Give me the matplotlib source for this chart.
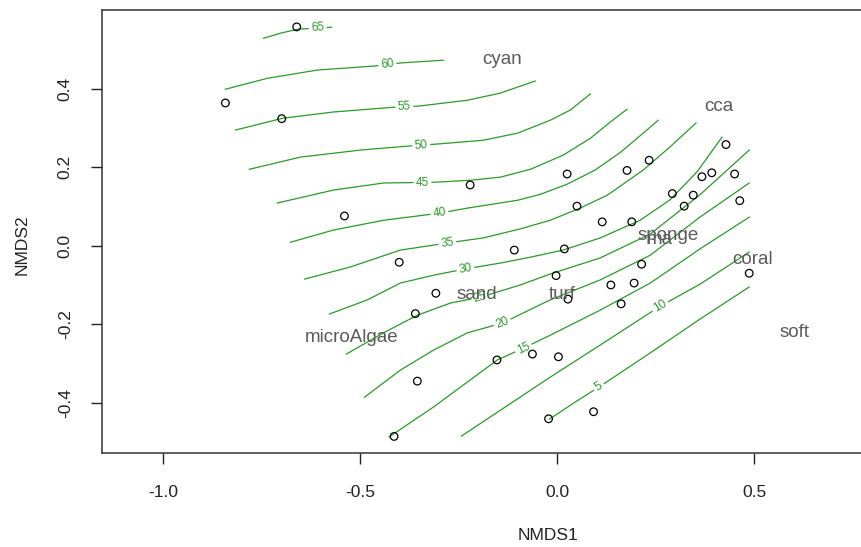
import numpy as np
import matplotlib.pyplot as plt

plt.rcParams['font.family'] = ['Liberation Sans', 'DejaVu Sans']

# site scores (NMDS1, NMDS2)
site_x = [-0.661, -0.842, -0.699, -0.221, -0.540, -0.109, -0.401, -0.308, -0.360, -0.063,
          -0.153, -0.355, -0.414, -0.022, 0.428, 0.233, 0.177, 0.367, 0.392, 0.450,
          0.025, 0.292, 0.345, 0.322, 0.463, 0.050, 0.114, 0.189, 0.018, -0.003,
          0.214, 0.136, 0.195, 0.162, 0.027, 0.487, 0.003, 0.092]
site_y = [0.558, 0.364, 0.324, 0.155, 0.076, -0.011, -0.042, -0.121, -0.173, -0.276,
          -0.291, -0.345, -0.486, -0.441, 0.258, 0.218, 0.192, 0.176, 0.186, 0.183,
          0.183, 0.133, 0.129, 0.101, 0.115, 0.101, 0.061, 0.061, -0.008, -0.076,
          -0.047, -0.100, -0.095, -0.148, -0.136, -0.070, -0.283, -0.423]

# species scores
species = ['cyan', 'cca', 'sponge', 'ma', 'coral', 'soft', 'sand', 'turf', 'microAlgae']
sp_x = [-0.140, 0.411, 0.282, 0.261, 0.495, 0.602, -0.203, 0.013, -0.523]
sp_y = [0.475, 0.356, 0.027, 0.015, -0.036, -0.220, -0.125, -0.125, -0.235]

# fitted surface isolines
iso65_x = [-0.745, -0.702, -0.659, -0.608, -0.573]
iso65_y = [0.529, 0.542, 0.552, 0.555, 0.557]
iso60_x = [-0.842, -0.735, -0.608, -0.466, -0.398, -0.289]
iso60_y = [0.399, 0.427, 0.448, 0.458, 0.466, 0.473]
iso55_x = [-0.816, -0.697, -0.568, -0.416, -0.352, -0.228, -0.145, -0.056]
iso55_y = [0.295, 0.325, 0.341, 0.353, 0.356, 0.371, 0.389, 0.420]
iso50_x = [-0.781, -0.652, -0.499, -0.380, -0.309, -0.188, -0.101, -0.068, -0.018, 0.033, 0.084]
iso50_y = [0.195, 0.226, 0.244, 0.254, 0.259, 0.269, 0.287, 0.300, 0.320, 0.346, 0.387]
iso45_x = [-0.710, -0.568, -0.441, -0.309, -0.221, -0.144, -0.068, 0.015, 0.084, 0.134, 0.177]
iso45_y = [0.109, 0.142, 0.160, 0.162, 0.167, 0.175, 0.195, 0.231, 0.274, 0.315, 0.348]
iso40_x = [-0.677, -0.568, -0.441, -0.299, -0.228, -0.101, -0.043, 0.025, 0.096, 0.160, 0.218, 0.256]
iso40_y = [0.009, 0.040, 0.065, 0.083, 0.096, 0.116, 0.131, 0.157, 0.193, 0.238, 0.287, 0.320]
iso35_x = [-0.641, -0.525, -0.398, -0.279, -0.188, -0.094, -0.018, 0.058, 0.127, 0.218, 0.286, 0.352]
iso35_y = [-0.085, -0.054, -0.011, 0.007, 0.020, 0.043, 0.065, 0.096, 0.129, 0.193, 0.252, 0.313]
iso30_x = [-0.578, -0.482, -0.398, -0.314, -0.233, -0.144, -0.068, 0.015, 0.109, 0.210, 0.286, 0.355, 0.418]
iso30_y = [-0.174, -0.138, -0.095, -0.075, -0.059, -0.044, -0.029, -0.011, 0.020, 0.065, 0.117, 0.189, 0.277]
iso25_x = [-0.535, -0.441, -0.355, -0.271, -0.195, -0.094, -0.018, 0.109, 0.236, 0.362, 0.487]
iso25_y = [-0.276, -0.222, -0.177, -0.146, -0.131, -0.100, -0.072, -0.031, 0.030, 0.130, 0.244]
iso20_x = [-0.489, -0.398, -0.314, -0.228, -0.139, -0.018, 0.109, 0.236, 0.362, 0.487]
iso20_y = [-0.386, -0.317, -0.266, -0.222, -0.197, -0.138, -0.087, -0.024, 0.073, 0.160]
iso15_x = [-0.426, -0.314, -0.152, -0.086, -0.018, 0.109, 0.236, 0.362, 0.487]
iso15_y = [-0.487, -0.411, -0.291, -0.261, -0.228, -0.164, -0.095, -0.008, 0.073]
iso10_x = [-0.243, -0.144, -0.018, 0.109, 0.261, 0.362, 0.487]
iso10_y = [-0.485, -0.419, -0.335, -0.253, -0.154, -0.098, -0.016]
iso05_x = [-0.020, 0.046, 0.106, 0.236, 0.362, 0.487]
iso05_y = [-0.442, -0.398, -0.360, -0.273, -0.187, -0.105]

isolines = [(65, iso65_x, iso65_y), (60, iso60_x, iso60_y), (55, iso55_x, iso55_y),
            (50, iso50_x, iso50_y), (45, iso45_x, iso45_y), (40, iso40_x, iso40_y),
            (35, iso35_x, iso35_y), (30, iso30_x, iso30_y), (25, iso25_x, iso25_y),
            (20, iso20_x, iso20_y), (15, iso15_x, iso15_y), (10, iso10_x, iso10_y),
            (5, iso05_x, iso05_y)]
# where along each isoline its label sits (NMDS1)
label_at = {65: -0.608, 60: -0.431, 55: -0.388, 50: -0.345, 45: -0.342, 40: -0.299,
            35: -0.279, 30: -0.233, 25: -0.195, 20: -0.139, 15: -0.086, 10: 0.261, 5: 0.106}

surf_col = '#2a9a2a'

fig = plt.figure(figsize=(8.61, 5.47), dpi=100)
ax = fig.add_axes([102 / 861, 93.7 / 547, 770.6 / 861, 443.3 / 547])
ax.set_xlim(-1.155, 0.80)
ax.set_ylim(-0.529, 0.601)

for lev, xs, ys in isolines:
    ax.plot(xs, ys, color=surf_col, lw=0.9, zorder=1)
    x0 = label_at[lev]
    y0 = np.interp(x0, xs, ys)
    p1 = ax.transData.transform((x0 - 0.015, np.interp(x0 - 0.015, xs, ys)))
    p2 = ax.transData.transform((x0 + 0.015, np.interp(x0 + 0.015, xs, ys)))
    ang = np.degrees(np.arctan2(p2[1] - p1[1], p2[0] - p1[0]))
    ax.text(x0, y0, str(lev), color=surf_col, fontsize=8.5, rotation=ang,
            rotation_mode='anchor', ha='center', va='center', zorder=2,
            bbox=dict(boxstyle='square,pad=0.2', fc='white', ec='none'))

ax.scatter(site_x, site_y, s=30, facecolors='none', edgecolors='black',
           linewidths=0.9, zorder=3)

for name, x, y in zip(species, sp_x, sp_y):
    ax.text(x, y, name, color='#5a5a5a', fontsize=13.5, ha='center', va='center', zorder=4)

ax.set_xticks([-1.0, -0.5, 0.0, 0.5])
ax.set_yticks([-0.4, -0.2, 0.0, 0.2, 0.4])
ax.set_xticklabels(['-1.0', '-0.5', '0.0', '0.5'])
ax.set_yticklabels(['-0.4', '-0.2', '0.0', '0.2', '0.4'], rotation=90, va='center')
ax.tick_params(direction='out', length=8, width=1, labelsize=12.5, colors='#222222')
ax.tick_params(axis='x', pad=15)
ax.tick_params(axis='y', pad=13)
for s in ax.spines.values():
    s.set_color('#333333')
    s.set_linewidth(1.1)

ax.set_xlabel('NMDS1', fontsize=12.5, color='#222222')
ax.set_ylabel('NMDS2', fontsize=12.5, color='#222222')
ax.xaxis.set_label_coords((548 - 102) / 770.6, (453.3 - 528) / 443.3)
ax.yaxis.set_label_coords((30 - 102) / 770.6, (453.3 - 245) / 443.3)

fig.savefig('out.png', dpi=100)
